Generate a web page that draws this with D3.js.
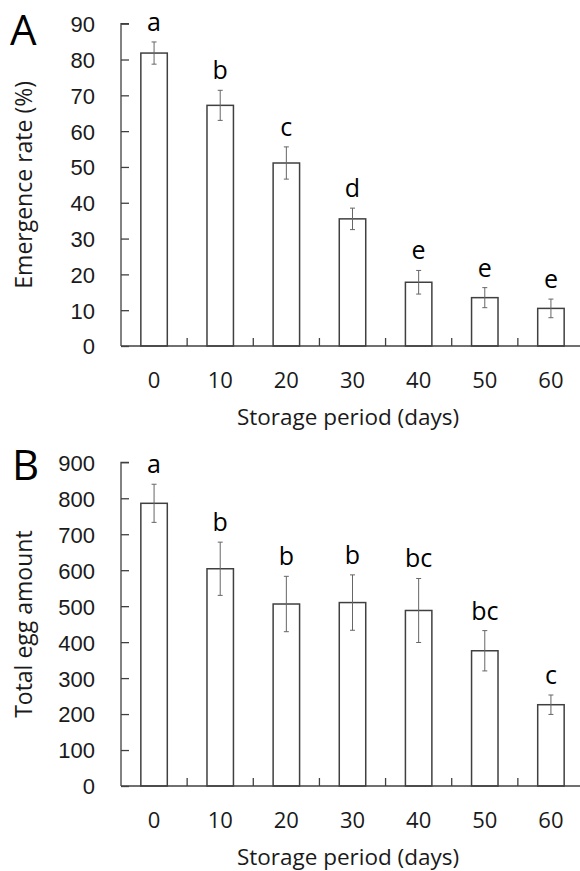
<!DOCTYPE html>
<html>
<head>
<meta charset="utf-8">
<script src="https://cdn.jsdelivr.net/npm/d3@7"></script>
<style>
  body { margin: 0; background: #fff; }
  svg { display: block; font-family: "Open Sans", Lato, sans-serif; }
</style>
</head>
<body>
<div id="chart"></div>
<script>
// Data
const days = ["0", "10", "20", "30", "40", "50", "60"];

const emergence = [81.8, 67.2, 51.1, 35.5, 17.8, 13.5, 10.5];
const emergenceErr = [3.1, 4.2, 4.5, 3.0, 3.3, 2.8, 2.6];
const emergenceLetters = ["a", "b", "c", "d", "e", "e", "e"];
const emergenceTicks = [0, 10, 20, 30, 40, 50, 60, 70, 80, 90];

const eggs = [786, 604, 506, 510, 488, 376, 226];
const eggsErr = [53, 74, 77, 77, 89, 56, 27];
const eggsLetters = ["a", "b", "b", "b", "bc", "bc", "c"];
const eggsTicks = [0, 100, 200, 300, 400, 500, 600, 700, 800, 900];

const width = 580;
const height = 871;
const axisColor = "#404040";

const svg = d3.select("#chart")
    .append("svg")
    .attr("width", width)
    .attr("height", height);

// Draw one panel
function drawPanel(opts) {
    const g = svg.append("g");

    const x = d3.scaleBand()
        .domain(days)
        .range([opts.left, opts.right]);

    const y = d3.scaleLinear()
        .domain([0, opts.max])
        .range([opts.bottom, opts.top]);

    const barW = x.bandwidth() * 0.4;
    const cx = i => x(days[i]) + x.bandwidth() / 2;

    // bars
    g.selectAll("rect.bar")
        .data(opts.values)
        .enter()
        .append("rect")
        .attr("class", "bar")
        .attr("x", (d, i) => cx(i) - barW / 2)
        .attr("y", d => y(d))
        .attr("width", barW)
        .attr("height", d => y(0) - y(d))
        .attr("fill", "#fff")
        .attr("stroke", axisColor)
        .attr("stroke-width", 1.5);

    // error bars
    const err = g.selectAll("g.err")
        .data(opts.values)
        .enter()
        .append("g")
        .attr("stroke", "#666")
        .attr("stroke-width", 1);

    err.append("line")
        .attr("x1", (d, i) => cx(i))
        .attr("x2", (d, i) => cx(i))
        .attr("y1", (d, i) => y(d + opts.errors[i]))
        .attr("y2", (d, i) => y(d - opts.errors[i]));
    err.append("line")
        .attr("x1", (d, i) => cx(i) - 2.5)
        .attr("x2", (d, i) => cx(i) + 2.5)
        .attr("y1", (d, i) => y(d + opts.errors[i]))
        .attr("y2", (d, i) => y(d + opts.errors[i]));
    err.append("line")
        .attr("x1", (d, i) => cx(i) - 2.5)
        .attr("x2", (d, i) => cx(i) + 2.5)
        .attr("y1", (d, i) => y(d - opts.errors[i]))
        .attr("y2", (d, i) => y(d - opts.errors[i]));

    // significance letters
    g.selectAll("text.letter")
        .data(opts.values)
        .enter()
        .append("text")
        .attr("x", (d, i) => cx(i))
        .attr("y", (d, i) => y(d + opts.errors[i]) - 11)
        .attr("text-anchor", "middle")
        .style("font-size", "25px")
        .attr("fill", "#000")
        .text((d, i) => opts.letters[i]);

    // y axis (inside ticks)
    const yAxis = g.append("g")
        .attr("transform", `translate(${opts.left},0)`)
        .call(d3.axisRight(y).tickValues(opts.ticks).tickSize(8).tickFormat(d3.format("d")));
    yAxis.select(".domain").attr("d", `M8,${opts.top}H0V${opts.bottom}`).attr("stroke", axisColor).attr("stroke-width", 1.3);
    yAxis.selectAll(".tick line").attr("stroke", axisColor).attr("stroke-width", 1.3);
    yAxis.selectAll(".tick text")
        .attr("x", -26)
        .attr("dy", "0.36em")
        .attr("text-anchor", "end")
        .style("font-size", "22px")
        .attr("fill", "#1a1a1a");

    // x axis: baseline with inside ticks between categories
    g.append("line")
        .attr("x1", opts.left)
        .attr("x2", opts.right)
        .attr("y1", y(0))
        .attr("y2", y(0))
        .attr("stroke", axisColor)
        .attr("stroke-width", 1.3);

    g.selectAll("line.sep")
        .data(days.slice(1))
        .enter()
        .append("line")
        .attr("x1", d => x(d))
        .attr("x2", d => x(d))
        .attr("y1", y(0))
        .attr("y2", y(0) - 8)
        .attr("stroke", axisColor)
        .attr("stroke-width", 1.3);

    g.selectAll("text.xlab")
        .data(days)
        .enter()
        .append("text")
        .attr("x", d => x(d) + x.bandwidth() / 2)
        .attr("y", y(0) + 42)
        .attr("text-anchor", "middle")
        .style("font-size", "22px")
        .attr("fill", "#1a1a1a")
        .text(d => d);

    // axis titles
    g.append("text")
        .attr("x", 348)
        .attr("y", y(0) + 79)
        .attr("text-anchor", "middle")
        .style("font-size", "22.5px")
        .attr("fill", "#1a1a1a")
        .text("Storage period (days)");

    g.append("text")
        .attr("transform", `translate(${opts.ytitleX},${(opts.top + opts.bottom) / 2}) rotate(-90)`)
        .attr("text-anchor", "middle")
        .style("font-size", "23px")
        .attr("fill", "#1a1a1a")
        .text(opts.ytitle);

    // panel letter
    g.append("text")
        .attr("x", opts.labelX)
        .attr("y", opts.labelY)
        .style("font-size", "42px")
        .attr("fill", "#000")
        .text(opts.label);
}

drawPanel({
    values: emergence, errors: emergenceErr, letters: emergenceLetters, ticks: emergenceTicks,
    max: 90, left: 121, right: 584, top: 23.7, bottom: 346,
    ytitle: "Emergence rate (%)", ytitleX: 31.5,
    label: "A", labelX: 10, labelY: 45
});

drawPanel({
    values: eggs, errors: eggsErr, letters: eggsLetters, ticks: eggsTicks,
    max: 900, left: 121, right: 584, top: 462.3, bottom: 786,
    ytitle: "Total egg amount", ytitleX: 32,
    label: "B", labelX: 12, labelY: 480
});
</script>
</body>
</html>
